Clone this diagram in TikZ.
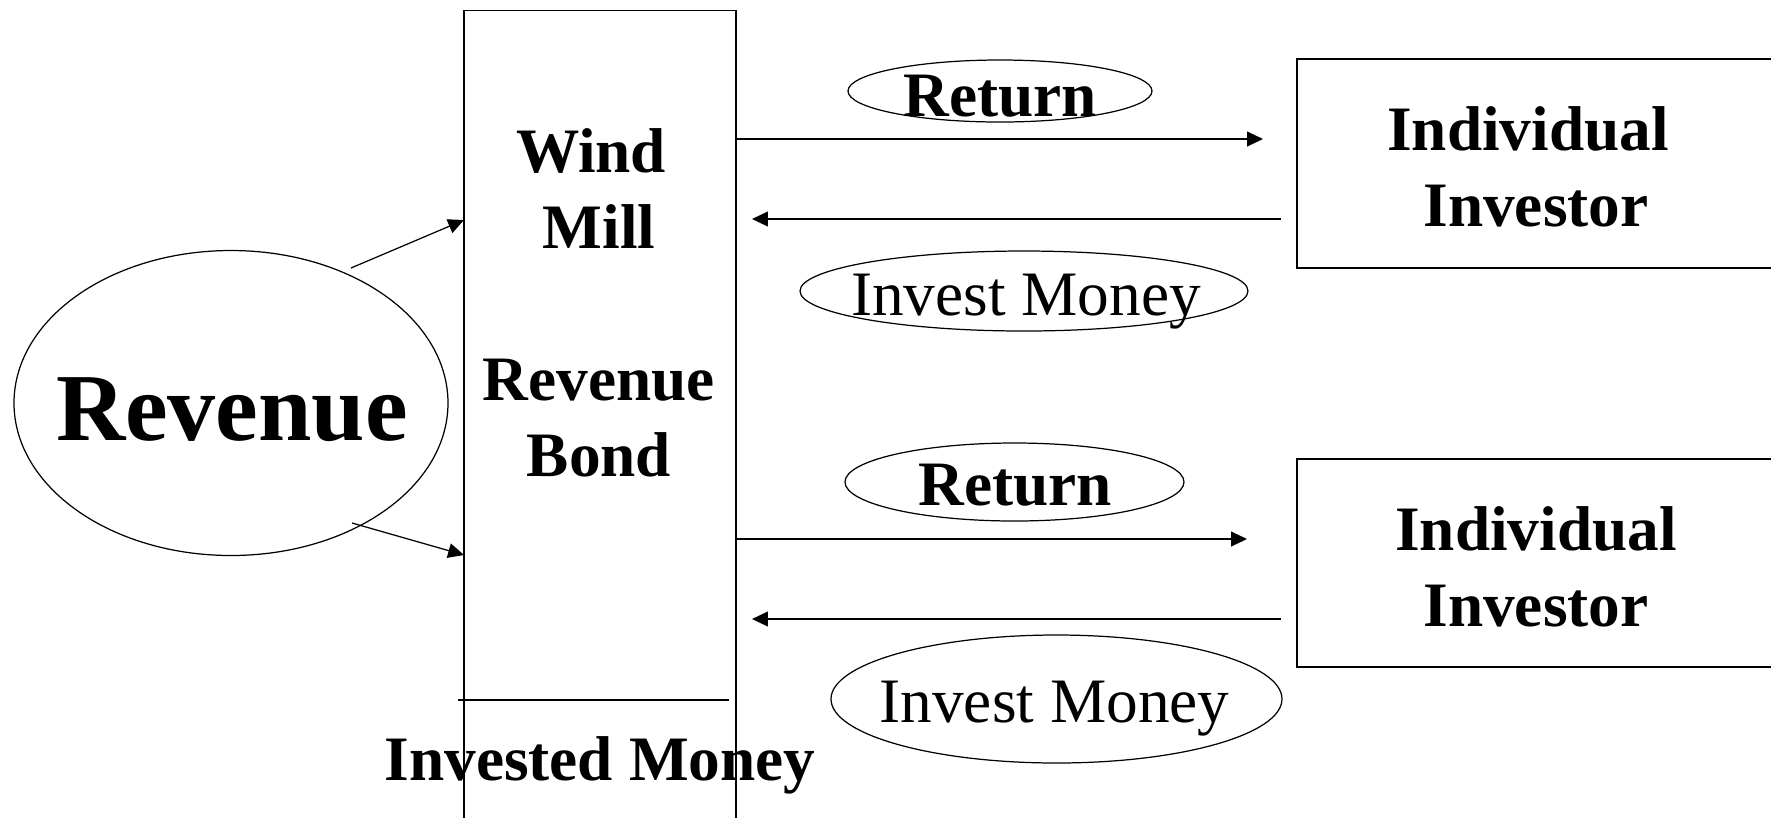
\documentclass[tikz,border=0pt]{standalone}
\usepackage{fontspec}
\setmainfont{Liberation Serif}
\usepackage{tikz}
\usetikzlibrary{calc, arrows.meta, shapes.geometric}

\begin{document}
\begin{tikzpicture}[x=0.01cm, y=-0.01cm,
		bold/.style={font=\fontsize{18}{21.6}\selectfont\bfseries, inner sep=0pt},
		plain/.style={font=\fontsize{18}{21.6}\selectfont, inner sep=0pt},
		tag/.style={draw, ellipse, inner sep=0pt, line width=0.35pt},
		box/.style={draw, rectangle, inner sep=0pt, line width=0.4pt},
		flow/.style={-{Triangle[length=4.5pt, width=4.2pt]}, line width=0.35pt}]
			\useasboundingbox (0,0) rectangle (1771,817);
			\clip (0,0) rectangle (1771,817);

			% ellipse of w x h pixels, empty, text goes on top
			\newcommand{\drawTag}[4]
			{
				\node [tag, minimum width=#3*0.01cm, minimum height=#4*0.01cm] (#1) at (#2) {}
			}

			\begin{scope}
				\drawTag{revenue}{231,403}{434}{305};
				\node [font=\fontsize{27.3}{32}\selectfont\bfseries, inner sep=0pt, anchor=base] (revenueText) at (232,440) {Revenue};
			\end{scope}

			\begin{scope}
				\node [box, minimum width=2.72cm, minimum height=8.29cm] (bond) at (600,425.5) {};
				\node [bold, align=center] (bondText) at (599,302.5) {Wind~~\\Mill\\~\\Revenue\\Bond};
				\draw [line width=0.4pt] (458,700) -- (729,700);
				\node [bold, anchor=base] (invested) at (600,780) {Invested Money};
			\end{scope}

			\begin{scope}
				\node [box, minimum width=4.96cm, minimum height=2.09cm] (investorA) at (1545,163.5) {};
				\node [bold, align=center] (investorAText) at (1536,166.5) {Individual~~\\Investor};
				\node [box, minimum width=4.96cm, minimum height=2.08cm] (investorB) at (1545,563) {};
				\node [bold, align=center] (investorBText) at (1536,566.5) {Individual\\Investor};
			\end{scope}

			\begin{scope}
				\drawTag{returnA}{1000,91}{304}{62};
				\node [bold, anchor=base] (returnAText) at (1000,116) {Return};
				\drawTag{moneyA}{1024,291}{448}{80};
				\node [plain, anchor=base] (moneyAText) at (1026,315) {Invest Money};
				\drawTag{returnB}{1014.5,482}{339}{78};
				\node [bold, anchor=base] (returnBText) at (1015,505) {Return};
				\drawTag{moneyB}{1056.5,699}{451}{128};
				\node [plain, anchor=base] (moneyBText) at (1054.5,722) {Invest Money};
			\end{scope}

			\coordinate (revUp) at (351,268);
			\coordinate (revUpEnd) at (464,220);
			\coordinate (revDown) at (352,523);
			\coordinate (revDownEnd) at (464,555);
			\coordinate (returnAEnd) at (1263,139);
			\coordinate (returnBEnd) at (1247,539);
			\coordinate (moneyAStart) at (1281,219);
			\coordinate (moneyAEnd) at (752,219);
			\coordinate (moneyBStart) at (1281,619);
			\coordinate (moneyBEnd) at (752,619);

			\begin{scope}[flow]
				\draw (revUp) -- (revUpEnd);
				\draw (revDown) -- (revDownEnd);
				\draw (returnAEnd -| bond.east) -- (returnAEnd);
				\draw (moneyAStart) -- (moneyAEnd);
				\draw (returnBEnd -| bond.east) -- (returnBEnd);
				\draw (moneyBStart) -- (moneyBEnd);
			\end{scope}
		\end{tikzpicture}
\end{document}
